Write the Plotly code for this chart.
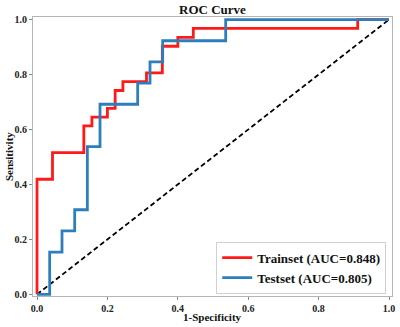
import plotly.graph_objects as go

# ROC data
train_fpr = [0, 0, 0.044, 0.044, 0.133, 0.133, 0.156, 0.156, 0.2, 0.2, 0.222, 0.222,
             0.244, 0.244, 0.311, 0.311, 0.356, 0.356, 0.4, 0.4, 0.444, 0.444,
             0.911, 0.911, 1.0]
train_tpr = [0, 0.419, 0.419, 0.516, 0.516, 0.613, 0.613, 0.645, 0.645, 0.677, 0.677, 0.742,
             0.742, 0.774, 0.774, 0.806, 0.806, 0.903, 0.903, 0.935, 0.935, 0.968,
             0.968, 1.0, 1.0]
test_fpr = [0, 0.036, 0.036, 0.071, 0.071, 0.107, 0.107, 0.143, 0.143, 0.179, 0.179,
            0.286, 0.286, 0.321, 0.321, 0.357, 0.357, 0.536, 0.536, 1.0]
test_tpr = [0, 0, 0.154, 0.154, 0.231, 0.231, 0.308, 0.308, 0.538, 0.538, 0.692,
            0.692, 0.769, 0.769, 0.846, 0.846, 0.923, 0.923, 1.0, 1.0]
diag = [0, 1]

train_label = "Trainset (AUC=0.848)"
test_label = "Testset (AUC=0.805)"
tick_vals = [0.0, 0.2, 0.4, 0.6, 0.8, 1.0]
tick_text = ["0.0", "0.2", "0.4", "0.6", "0.8", "1.0"]

SERIF = "Liberation Serif, Times New Roman, serif"

fig = go.Figure()
fig.add_trace(go.Scatter(x=diag, y=diag, mode="lines", showlegend=False,
                         line=dict(color="black", width=1.8, dash="5px,3px")))
fig.add_trace(go.Scatter(x=train_fpr, y=train_tpr, mode="lines", name=train_label,
                         line=dict(color="#ff1a1a", width=2.8)))
fig.add_trace(go.Scatter(x=test_fpr, y=test_tpr, mode="lines", name=test_label,
                         line=dict(color="#2e7ebc", width=2.8)))

axis_common = dict(
    showgrid=False, zeroline=False, showline=True, mirror=True,
    linecolor="#b5b5b5", linewidth=1, ticks="outside", ticklen=3,
    tickcolor="#888888", tickwidth=1, automargin=False,
    tickvals=tick_vals, ticktext=tick_text,
    tickfont=dict(family=SERIF, size=10, color="#222222", weight="bold"),
)

fig.update_layout(
    width=400, height=327,
    margin=dict(l=33, r=8, t=17, b=31, autoexpand=False),
    paper_bgcolor="white", plot_bgcolor="white",
    xaxis=dict(range=[-0.0114, 1.0085], **axis_common),
    yaxis=dict(range=[-0.006, 1.0095], **axis_common),
    title=dict(text="ROC Curve", x=0.5, xref="paper", xanchor="center",
               y=1 - 9.5 / 327, yref="container", yanchor="middle",
               font=dict(family=SERIF, size=13, color="#111111", weight="bold")),
    legend=dict(x=0.984, y=0.008, xanchor="right", yanchor="bottom",
                bgcolor="white", bordercolor="#d0d0d0", borderwidth=1,
                font=dict(family=SERIF, size=13, color="#111111", weight="bold"),
                tracegroupgap=0, itemwidth=30),
    annotations=[
        dict(text="1-Specificity", x=0.5, y=-0.074, xref="paper", yref="paper",
             xanchor="center", yanchor="middle", showarrow=False,
             font=dict(family=SERIF, size=11, color="#111111", weight="bold")),
        dict(text="Sensitivity", x=-0.068, y=0.5, xref="paper", yref="paper",
             xanchor="center", yanchor="middle", showarrow=False, textangle=-90,
             font=dict(family=SERIF, size=11, color="#111111", weight="bold")),
    ],
)

fig.write_html("out.html", config={"displayModeBar": False},
               post_script="document.body.style.margin='0';")
